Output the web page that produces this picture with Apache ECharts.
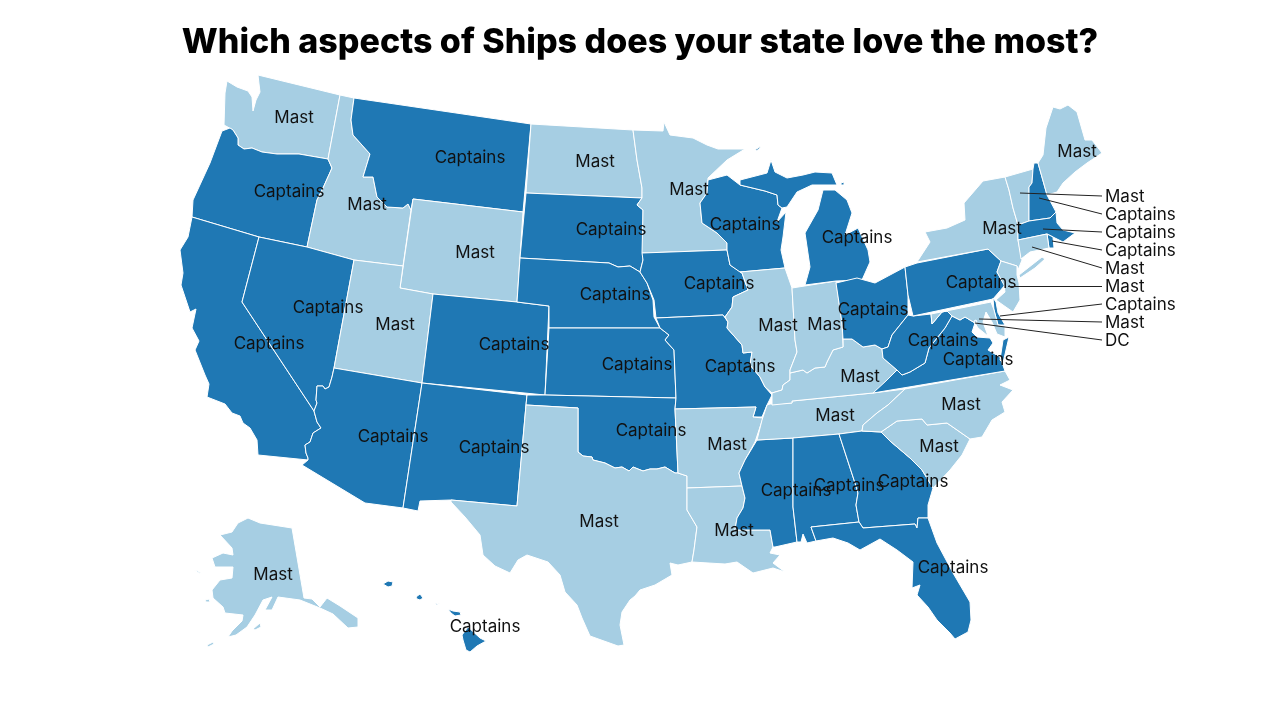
<!DOCTYPE html>
<html>
	<head>
		<meta charset="utf-8">
		<title>Ships map</title>
		<script src="https://cdn.jsdelivr.net/npm/echarts@6/dist/echarts.min.js"></script>
		<style>
			html, body {margin:0;padding:0;background:#fff;}
			#main {width:1280px;height:720px;}
		</style>
	</head>
	<body>
		<div id="main"></div>
		<script>
			var stateNames = ['WA','OR','CA','ID','NV','MT','WY','UT','AZ','CO','NM','ND','SD','NE','KS','OK','TX','MN','IA','MO','AR','LA','WI','IL','MS','TN','KY','IN','MI','OH','AL','GA','FL','SC','NC','VA','WV','PA','NY','VT','NH','ME','MA','RI','CT','NJ','DE','MD','DC','AK','HI'];
			var stateAnswers = ['Mast','Captains','Captains','Mast','Captains','Captains','Mast','Mast','Captains','Captains','Captains','Mast','Captains','Captains','Captains','Captains','Mast','Mast','Captains','Captains','Mast','Mast','Captains','Mast','Captains','Mast','Mast','Mast','Captains','Captains','Captains','Captains','Captains','Mast','Mast','Captains','Captains','Captains','Mast','Mast','Captains','Mast','Captains','Captains','Mast','Mast','Captains','Mast','DC','Mast','Captains'];
			var answerNames = ['Captains','Mast','DC'];
			var answerColors = ['#1f78b4','#a6cee3','#a6cee3'];
			// small states labelled off to the right, top to bottom
			var calloutStates = ['VT','NH','MA','RI','CT','NJ','DE','MD','DC'];

			// base map in page pixels (no geojson available offline)
			var stateShapes = {
				WA: [[[258,75],[340,95],[328,159],[299,154],[277,154],[262,152],[252,148],[244,149],[238,145],[238,138],[233,130],[224,125],[225,93],[227,81],[237,87],[248,91],[252,97],[253,111],[256,100],[260,92],[259,84]]],
				OR: [[[222,131],[230,128],[233,130],[238,138],[238,145],[244,149],[252,148],[262,152],[277,154],[299,154],[328,159],[332,168],[323,188],[317,200],[307,247],[259,237],[192,217],[193,200],[210,163]]],
				CA: [[[192,217],[259,237],[242,302],[314,411],[317,422],[321,428],[313,433],[310,442],[305,445],[306,453],[308,458],[308,460],[258,455],[257,440],[250,428],[243,423],[240,416],[232,413],[225,404],[207,397],[209,384],[205,375],[195,350],[199,341],[192,328],[196,309],[190,312],[181,285],[183,273],[180,250],[188,237]]],
				ID: [[[340,95],[354,98],[351,120],[353,135],[370,154],[363,177],[373,177],[377,197],[387,207],[403,208],[408,204],[411,210],[403,266],[354,260],[307,247],[317,200],[323,188],[332,168],[328,159]]],
				NV: [[[259,237],[307,247],[354,260],[334,368],[332,377],[329,387],[325,389],[323,386],[317,386],[316,400],[317,403],[314,411],[242,302]]],
				MT: [[[354,98],[531,124],[523,212],[413,199],[411,210],[408,204],[403,208],[387,207],[377,197],[373,177],[363,177],[370,154],[353,135],[351,120]]],
				WY: [[[413,199],[523,212],[517,302],[433,294],[400,288]]],
				UT: [[[354,260],[403,266],[400,288],[433,294],[422,383],[334,368]]],
				AZ: [[[334,368],[422,383],[403,508],[365,503],[302,465],[308,460],[308,458],[306,453],[305,445],[310,442],[313,433],[321,428],[317,422],[314,411],[317,403],[316,400],[317,386],[323,386],[325,389],[329,387],[332,377]]],
				CO: [[[433,294],[517,302],[549,306],[545,395],[422,383]]],
				NM: [[[422,383],[527,395],[526,405],[517,506],[451,500],[420,501],[418,511],[403,508]]],
				ND: [[[531,124],[633,130],[637,160],[642,188],[642,198],[526,193]]],
				SD: [[[526,193],[642,198],[637,205],[643,210],[643,252],[642,253],[643,260],[640,272],[630,266],[618,267],[609,263],[520,258]]],
				NE: [[[520,258],[609,263],[618,267],[630,266],[640,272],[647,283],[653,300],[654,317],[660,328],[549,328],[549,306],[517,302]]],
				KS: [[[549,328],[660,328],[669,335],[665,340],[674,350],[676,398],[545,395]]],
				OK: [[[527,395],[545,395],[676,398],[675,409],[678,473],[675,473],[665,467],[657,469],[650,469],[643,471],[633,467],[629,471],[622,467],[615,468],[605,463],[593,460],[592,457],[583,456],[578,452],[578,408],[526,405]]],
				TX: [[[526,405],[578,408],[578,452],[583,456],[592,457],[593,460],[605,463],[615,468],[622,467],[629,471],[633,467],[643,471],[650,469],[657,469],[665,467],[675,473],[678,473],[687,476],[687,510],[697,527],[694,550],[692,562],[678,565],[670,563],[672,575],[655,585],[640,590],[635,596],[630,600],[622,612],[620,625],[624,645],[618,646],[590,636],[582,618],[577,605],[565,592],[560,575],[548,562],[527,555],[518,560],[510,573],[495,566],[483,555],[480,535],[465,517],[451,502],[451,500],[517,506]]],
				MN: [[[633,130],[663,131],[664,122],[670,135],[693,138],[707,145],[718,149],[745,149],[727,160],[708,178],[707,193],[700,203],[702,223],[717,233],[727,243],[727,250],[642,253],[643,210],[637,205],[642,198],[642,188],[637,160]]],
				IA: [[[642,253],[727,250],[730,265],[742,273],[748,290],[733,297],[732,307],[725,317],[723,315],[656,318],[654,300],[647,283],[640,272],[643,260]]],
				MO: [[[656,318],[723,315],[728,322],[727,328],[742,345],[743,353],[752,352],[750,365],[760,377],[765,387],[772,395],[767,405],[762,417],[753,417],[756,407],[675,409],[676,398],[674,350],[665,340],[669,335],[660,328]]],
				AR: [[[675,409],[756,407],[753,417],[763,418],[755,442],[745,460],[739,473],[742,486],[687,488],[687,476],[678,473]]],
				LA: [[[687,488],[742,486],[745,498],[743,508],[737,518],[735,530],[770,530],[773,547],[770,553],[780,555],[773,563],[785,572],[773,568],[753,573],[737,562],[725,564],[692,562],[694,550],[697,527],[687,510]]],
				WI: [[[708,180],[727,175],[740,185],[765,191],[777,195],[778,205],[782,208],[777,222],[786,212],[783,237],[781,250],[785,268],[740,272],[730,265],[727,250],[727,243],[717,233],[702,223],[700,203],[707,193]]],
				IL: [[[740,272],[785,268],[792,288],[795,340],[797,352],[790,370],[790,380],[783,385],[782,390],[772,393],[765,387],[760,377],[750,365],[752,352],[743,353],[742,345],[727,328],[728,322],[725,317],[732,307],[733,297],[748,290],[742,273]]],
				MS: [[[757,440],[793,438],[793,507],[797,542],[775,547],[773,547],[770,530],[735,530],[737,518],[743,508],[745,498],[742,486],[739,473],[745,460]]],
				TN: [[[770,404],[792,403],[792,401],[873,393],[905,389],[888,405],[877,413],[863,425],[862,431],[839,434],[793,438],[757,440],[762,420],[767,405]]],
				KY: [[[772,393],[782,390],[783,385],[790,380],[790,373],[803,370],[807,373],[815,368],[825,367],[827,362],[833,350],[843,347],[843,339],[852,339],[863,347],[875,345],[882,349],[883,358],[897,370],[887,380],[877,390],[873,393],[792,401],[792,403],[772,405]]],
				IN: [[[792,288],[836,281],[842,323],[843,347],[833,350],[827,362],[825,367],[815,368],[807,373],[803,370],[790,373],[790,370],[797,352],[795,340]]],
				MI: [[[823,190],[835,190],[847,200],[852,213],[845,235],[858,228],[868,250],[870,262],[862,280],[836,281],[805,285],[810,267],[805,233],[818,210]],
					[[740,185],[740,180],[767,173],[771,160],[775,172],[787,178],[803,175],[815,172],[832,173],[837,185],[823,185],[812,185],[797,192],[787,207],[782,208],[778,205],[777,195],[765,191]],
					[[755,150],[761,146],[759,149],[756,151]],[[841,183],[844,182],[844,185],[841,185]]],
				OH: [[[836,283],[857,278],[875,283],[905,267],[908,295],[908,315],[900,325],[892,335],[888,347],[882,349],[875,345],[863,347],[852,339],[843,339],[842,323]]],
				AL: [[[793,438],[839,434],[855,483],[858,493],[856,505],[859,522],[811,527],[816,541],[807,543],[803,534],[801,542],[797,542],[793,507]]],
				GA: [[[839,434],[862,431],[881,432],[890,441],[910,458],[922,470],[933,488],[928,505],[928,518],[918,518],[917,528],[915,524],[863,528],[859,522],[856,505],[858,493],[855,483]]],
				FL: [[[811,527],[859,522],[863,528],[915,524],[917,528],[918,518],[928,518],[937,543],[953,573],[970,602],[971,620],[968,632],[955,639],[950,633],[937,620],[928,607],[917,595],[920,585],[912,588],[913,562],[897,550],[880,539],[860,550],[848,543],[833,538],[816,541]]],
				SC: [[[881,432],[897,421],[922,419],[927,425],[947,423],[970,439],[962,455],[950,470],[933,488],[922,470],[910,458],[890,441]]],
				NC: [[[905,389],[1005,371],[1010,380],[1000,385],[1013,390],[1002,402],[1005,412],[992,420],[982,437],[970,439],[947,423],[927,425],[922,419],[897,421],[881,432],[862,431],[863,425],[877,413],[888,405]]],
				VA: [[[952,316],[960,320],[965,317],[975,323],[972,332],[977,337],[990,338],[993,343],[988,350],[1000,357],[1005,371],[873,393],[887,380],[897,370],[902,375],[910,372],[925,363],[929,348],[937,338],[945,328]],
					[[1003,340],[1009,337],[1003,363],[1000,360]]],
				WV: [[[908,315],[913,316],[931,314],[932,324],[942,312],[947,311],[952,316],[945,328],[937,338],[929,348],[925,363],[910,372],[902,375],[897,370],[883,358],[882,349],[888,347],[892,335],[900,325]]],
				PA: [[[905,267],[917,263],[988,249],[1001,261],[997,272],[1005,285],[993,299],[913,316],[908,295]]],
				NY: [[[917,262],[988,249],[1001,261],[1017,266],[1018,270],[1022,260],[1018,240],[1018,225],[1013,208],[1009,190],[1005,177],[983,181],[964,203],[965,220],[947,228],[925,232],[930,242]],
					[[1019,275],[1042,257],[1045,259],[1035,268],[1020,278]]],
				VT: [[[1005,177],[1033,169],[1032,183],[1029,187],[1029,221],[1018,225],[1013,208],[1009,190]]],
				NH: [[[1034,163],[1038,163],[1047,195],[1056,212],[1050,218],[1029,221],[1029,187],[1032,183],[1033,169]]],
				ME: [[[1038,163],[1043,155],[1046,128],[1053,107],[1060,109],[1068,105],[1077,112],[1085,140],[1092,140],[1102,153],[1087,163],[1075,172],[1063,183],[1057,192],[1047,195]]],
				MA: [[[1018,225],[1029,221],[1050,218],[1056,212],[1057,223],[1063,230],[1075,233],[1063,242],[1053,237],[1047,234],[1018,240]]],
				RI: [[[1047,234],[1053,237],[1054,248],[1049,248]]],
				CT: [[[1018,240],[1047,234],[1049,248],[1030,252],[1021,259]]],
				NJ: [[[1001,261],[1017,266],[1017,275],[1019,283],[1020,300],[1013,312],[1003,305],[996,300],[1005,292],[1004,285],[997,272]]],
				DE: [[[993,298],[996,302],[998,313],[1005,325],[998,325],[994,310]]],
				MD: [[[931,314],[991,302],[994,310],[998,325],[1005,326],[1005,337],[997,334],[992,322],[986,312],[983,322],[988,336],[978,328],[975,323],[965,317],[960,320],[952,316],[947,311],[942,312],[932,324]]],
				DC: [[[974,321],[976,320],[977,322],[975,323]]],
				AK: [[[248,518],[260,523],[292,528],[304,598],[312,599],[320,607],[327,598],[340,606],[358,618],[358,627],[348,628],[333,614],[320,608],[300,600],[278,597],[272,610],[265,610],[272,597],[263,600],[255,615],[247,627],[236,635],[228,637],[232,631],[242,621],[243,615],[225,613],[223,607],[213,598],[212,590],[220,580],[232,578],[233,567],[215,567],[212,558],[223,553],[233,555],[232,548],[220,535],[232,532],[238,523]],
					[[207,645],[213,642],[214,644],[208,647]],[[194,570],[198,571],[202,574],[199,573]],[[205,600],[209,599],[210,602],[206,602]],[[253,629],[260,623],[261,627],[255,630]]],
				HI: [[[383,584],[388,581],[393,582],[392,586],[388,587]],[[416,597],[420,594],[423,598],[420,600],[417,599]],[[435,604],[440,603],[440,604],[436,605]],[[448,609],[453,611],[460,612],[461,615],[455,616],[451,613]],[[468,627],[480,638],[486,641],[477,646],[470,652],[466,650],[463,640],[462,635]]]
			};
			// where each state's text sits
			var labelSpots = {
				WA:[294,117],OR:[289,191],MT:[470,157],ID:[367,204],WY:[475,252],ND:[595,161],SD:[611,229],MN:[689,189],NE:[615,294],IA:[719,283],WI:[745,224],MI:[857,237],
				NV:[328,307],UT:[395,324],CO:[514,344],KS:[637,364],MO:[740,366],IL:[778,325],IN:[827,324],OH:[873,309],KY:[860,376],WV:[943,340],VA:[978,359],PA:[981,282],NY:[1002,228],ME:[1077,151],
				CA:[269,343],AZ:[393,436],NM:[494,447],OK:[651,430],TX:[599,521],AR:[727,444],LA:[734,530],MS:[796,490],AL:[849,485],GA:[913,481],FL:[953,567],TN:[835,415],NC:[961,404],SC:[939,446],AK:[273,574],HI:[485,626]
			};
			// leader line start inside each callout state, and the end next to its text
			var calloutStarts = [[1020,193],[1039,198],[1043,229],[1052,241],[1032,247],[1008,286],[1000,316],[979,319],[975,323]];
			var calloutEnds = [[1102,196],[1102,214],[1102,232],[1102,250],[1102,268],[1102,286],[1102,304],[1102,322],[1102,340]];

			function answerOf(name) {
				return stateAnswers[stateNames.indexOf(name)];
			}

			var features = stateNames.map(function (name) {
				return {
					type: 'Feature',
					properties: {name: name, cp: labelSpots[name] || stateShapes[name][0][0]},
					geometry: {type: 'MultiPolygon', coordinates: stateShapes[name].map(function (ring) {return [ring];})}
				};
			});
			echarts.registerMap('usa', {type: 'FeatureCollection', features: features});

			var chart = echarts.init(document.getElementById('main'));
			var labelFont = 'Inter, "Noto Sans", sans-serif';
			chart.setOption({
				animation: false,
				title: {
					text: 'Which aspects of Ships does your state love the most?',
					left: 'center',
					top: 21,
					textStyle: {fontFamily: labelFont, fontWeight: 800, fontSize: 34, color: '#000'}
				},
				visualMap: {
					show: false,
					seriesIndex: 0,
					pieces: answerNames.map(function (a, i) {return {value: i, color: answerColors[i]};})
				},
				geo: {
					map: 'usa',
					silent: true,
					projection: {
						project: function (p) {return [p[0], p[1]];},
						unproject: function (p) {return [p[0], p[1]];}
					},
					boundingCoords: [[0, 0], [1280, 720]],
					layoutCenter: ['50%', '50%'],
					layoutSize: 1280,
					itemStyle: {borderColor: '#fff', borderWidth: 1, areaColor: '#a6cee3'},
					label: {
						show: true,
						offset: [0, 1],
						fontFamily: labelFont,
						fontSize: 17,
						color: '#111',
						formatter: function (p) {
							return calloutStates.indexOf(p.name) >= 0 ? '' : answerOf(p.name);
						}
					}
				},
				series: [{
					type: 'map',
					geoIndex: 0,
					data: stateNames.map(function (name, i) {
						return {name: name, value: answerNames.indexOf(stateAnswers[i])};
					})
				}, {
					type: 'lines',
					coordinateSystem: 'geo',
					silent: true,
					lineStyle: {color: '#222', width: 1, opacity: 1},
					data: calloutStates.map(function (name, i) {
						return {coords: [calloutStarts[i], calloutEnds[i]]};
					})
				}, {
					type: 'scatter',
					coordinateSystem: 'geo',
					silent: true,
					symbolSize: 0,
					itemStyle: {opacity: 1},
					label: {
						show: true,
						position: 'right',
						distance: 3,
						offset: [0, 1],
						fontFamily: labelFont,
						fontSize: 17,
						color: '#111',
						formatter: function (p) {return p.name;}
					},
					data: calloutStates.map(function (name, i) {
						return {name: name == 'DC' ? 'DC' : answerOf(name), value: calloutEnds[i]};
					})
				}]
			});
		</script>
	</body>
</html>
